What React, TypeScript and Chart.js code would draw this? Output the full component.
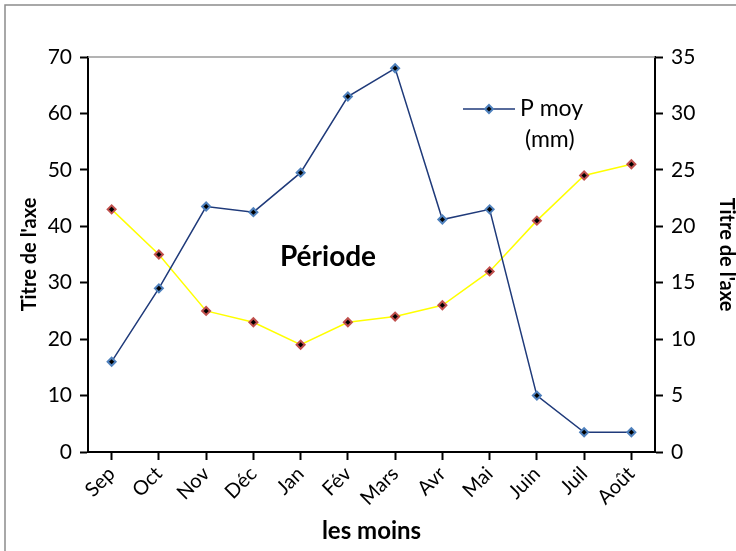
import React, { useEffect, useRef } from "react";
import { Chart, registerables } from "chart.js";

Chart.register(...registerables);

const months = ["Sep", "Oct", "Nov", "Déc", "Jan", "Fév", "Mars", "Avr", "Mai", "Juin", "Juil", "Août"];
const precipitation = [16, 29, 43.5, 42.5, 49.5, 63, 68, 41.2, 43, 10, 3.5, 3.5];
const temperature = [21.5, 17.5, 12.5, 11.5, 9.5, 11.5, 12, 13, 16, 20.5, 24.5, 25.5];
const legendLabel = ["P moy", "(mm)"];
const centerLabel = "Période";
const axisTitle = "Titre de l'axe";
const xTitle = "les moins";

const FONT = "Lato, 'Open Sans', sans-serif";

const decor = {
  id: "decor",
  afterDraw(chart: any) {
    const { ctx, chartArea } = chart;
    ctx.save();
    // outer border
    ctx.strokeStyle = "#8c8c8c";
    ctx.lineWidth = 1.5;
    ctx.strokeRect(5, 5, 760, 580);
    // top border of plot area
    ctx.strokeStyle = "#9a9a9a";
    ctx.lineWidth = 1.5;
    ctx.beginPath();
    ctx.moveTo(chartArea.left, chartArea.top);
    ctx.lineTo(chartArea.right, chartArea.top);
    ctx.stroke();
    // legend
    const ly = 109;
    ctx.strokeStyle = "#1f3a7a";
    ctx.lineWidth = 1.5;
    ctx.beginPath();
    ctx.moveTo(463, ly);
    ctx.lineTo(515, ly);
    ctx.stroke();
    ctx.fillStyle = "#000";
    ctx.strokeStyle = "#4f81bd";
    ctx.lineWidth = 2;
    ctx.beginPath();
    ctx.moveTo(489, ly - 4);
    ctx.lineTo(493, ly);
    ctx.lineTo(489, ly + 4);
    ctx.lineTo(485, ly);
    ctx.closePath();
    ctx.fill();
    ctx.stroke();
    ctx.fillStyle = "#000";
    ctx.font = `23px ${FONT}`;
    ctx.textAlign = "left";
    ctx.textBaseline = "middle";
    ctx.fillText(legendLabel[0], 520, ly);
    ctx.fillText(legendLabel[1], 525, ly + 31);
    // center label
    ctx.font = `bold 28px ${FONT}`;
    ctx.textAlign = "center";
    ctx.fillText(centerLabel, 328, 257);
    ctx.restore();
  },
};

export default function App() {
  const ref = useRef<HTMLCanvasElement>(null);
  useEffect(() => {
    const chart = new Chart(ref.current!, {
      type: "line",
      data: {
        labels: months,
        datasets: [
          {
            label: "P moy (mm)",
            data: precipitation,
            yAxisID: "y",
            borderColor: "#1f3a7a",
            borderWidth: 1.5,
            backgroundColor: "#000",
            pointStyle: "rectRot",
            pointRadius: 4,
            pointBorderColor: "#4f81bd",
            pointBackgroundColor: "#000",
            pointBorderWidth: 2,
            tension: 0,
          },
          {
            label: "T",
            data: temperature,
            yAxisID: "y1",
            borderColor: "#ffff00",
            borderWidth: 1.5,
            pointStyle: "rectRot",
            pointRadius: 4,
            pointBorderColor: "#c0504d",
            pointBackgroundColor: "#000",
            pointBorderWidth: 2,
            tension: 0,
          },
        ],
      },
      options: {
        responsive: false,
        animation: false,
        layout: { padding: { left: 10, right: 0, top: 57, bottom: 0 } },
        plugins: { legend: { display: false }, tooltip: { enabled: false } },
        scales: {
          x: {
            offset: true,
            grid: { drawOnChartArea: false, drawTicks: true, tickLength: 8, tickColor: "#000", tickWidth: 2, offset: false },
            border: { display: true, color: "#000", width: 2 },
            ticks: { color: "#000", font: { family: FONT, size: 20 }, minRotation: 45, maxRotation: 45, padding: 2 },
            title: { display: true, text: xTitle, color: "#000", font: { family: FONT, size: 24, weight: "bold" }, padding: { top: 0, bottom: 5 } },
            afterFit: (s: any) => { s.height = 99; },
          },
          y: {
            position: "left",
            min: 0,
            max: 70,
            ticks: { stepSize: 10, color: "#000", font: { family: FONT, size: 21 }, padding: 8 },
            grid: { drawOnChartArea: false, drawTicks: true, tickLength: 8, tickColor: "#000", tickWidth: 2 },
            border: { display: true, color: "#000", width: 2 },
            title: { display: true, text: axisTitle, color: "#000", font: { family: FONT, size: 20, weight: "bold" }, padding: { top: 8, bottom: 0 } },
            afterFit: (s: any) => { s.width = 78; },
          },
          y1: {
            position: "right",
            min: 0,
            max: 35,
            ticks: { stepSize: 5, color: "#000", font: { family: FONT, size: 21 }, padding: 8 },
            grid: { drawOnChartArea: false, drawTicks: true, tickLength: 8, tickColor: "#000", tickWidth: 2 },
            border: { display: true, color: "#000", width: 2 },
            title: { display: true, text: axisTitle, color: "#000", font: { family: FONT, size: 20, weight: "bold" }, padding: { top: -2, bottom: 0 } },
            afterFit: (s: any) => { s.width = 81; },
          },
        },
      },
      plugins: [decor],
    });
    return () => chart.destroy();
  }, []);
  return (
    <div style={{ position: "absolute", left: 0, top: 0, width: 736, height: 551, background: "#fff" }}>
      <canvas ref={ref} width={736} height={551} />
    </div>
  );
}
